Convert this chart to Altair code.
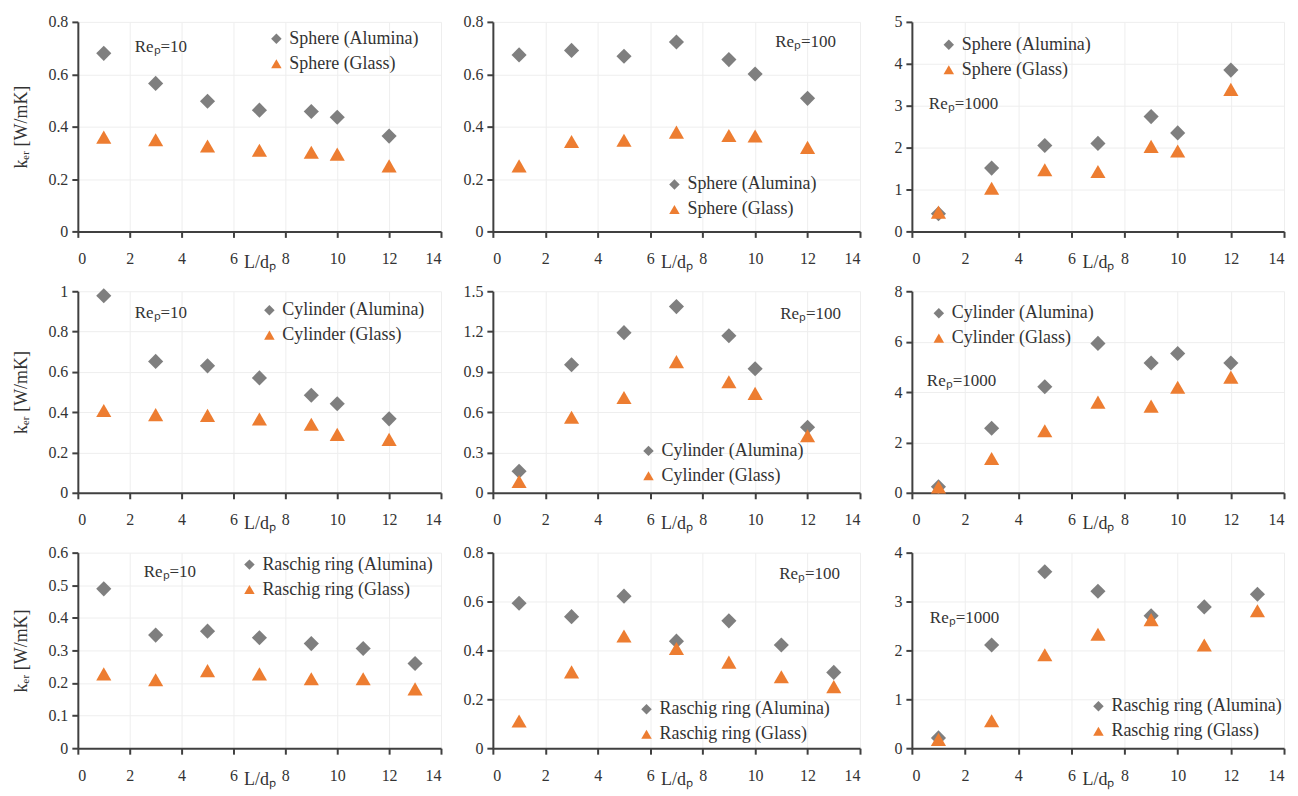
import altair as alt
import pandas as pd

# ---------------- data ----------------
x_sc = [1, 3, 5, 7, 9, 10, 12]          # sphere / cylinder L/dp
x_rr = [1, 3, 5, 7, 9, 11, 13]          # raschig ring L/dp

sph10_al = [0.68, 0.565, 0.497, 0.463, 0.458, 0.436, 0.364]
sph10_gl = [0.36, 0.35, 0.326, 0.31, 0.302, 0.295, 0.25]
sph100_al = [0.674, 0.691, 0.669, 0.723, 0.656, 0.601, 0.508]
sph100_gl = [0.25, 0.343, 0.348, 0.379, 0.366, 0.364, 0.321]
sph1000_al = [0.42, 1.51, 2.05, 2.10, 2.74, 2.35, 3.85]
sph1000_gl = [0.46, 1.03, 1.47, 1.43, 2.03, 1.92, 3.39]

cyl10_al = [0.978, 0.652, 0.630, 0.570, 0.484, 0.442, 0.367]
cyl10_gl = [0.408, 0.388, 0.384, 0.366, 0.340, 0.29, 0.265]
cyl100_al = [0.16, 0.953, 1.192, 1.386, 1.169, 0.923, 0.488]
cyl100_gl = [0.084, 0.562, 0.709, 0.976, 0.826, 0.74, 0.425]
cyl1000_al = [0.24, 2.56, 4.21, 5.93, 5.15, 5.53, 5.15]
cyl1000_gl = [0.23, 1.36, 2.46, 3.60, 3.44, 4.19, 4.59]

rr10_al = [0.489, 0.347, 0.359, 0.339, 0.321, 0.306, 0.260]
rr10_gl = [0.228, 0.21, 0.238, 0.228, 0.213, 0.213, 0.182]
rr100_al = [0.593, 0.538, 0.622, 0.438, 0.521, 0.422, 0.31]
rr100_gl = [0.111, 0.312, 0.459, 0.408, 0.352, 0.292, 0.252]
rr1000_al = [0.21, 2.11, 3.61, 3.21, 2.71, 2.89, 3.15]
rr1000_gl = [0.18, 0.56, 1.91, 2.33, 2.63, 2.11, 2.81]

x_ticks = [0, 2, 4, 6, 8, 10, 12, 14]

# ---------------- style ----------------
FONT = "Liberation Serif"
GRAY = "#7f7f7f"
ORANGE = "#ed7d31"
AXIS_C = "#404040"
TXT_C = "#333333"

W = [364, 368, 373]
H = [210, 202, 196]


def panel(xs, al, gl, name, ymax, ystep, re_label, re_xy, sym_xy, w, h, ytitle):
    lab_al = f"{name} (Alumina)"
    lab_gl = f"{name} (Glass)"
    df = pd.DataFrame({
        "x": xs + xs,
        "y": al + gl,
        "series": [lab_al] * len(xs) + [lab_gl] * len(xs),
    })
    n = int(round(ymax / ystep))
    yvals = [round(i * ystep, 4) for i in range(n + 1)]
    legend = alt.Legend(
        orient="none", legendX=sym_xy[0] - 5, legendY=sym_xy[1] - 9,
        title=None, padding=0, rowPadding=7, labelOffset=4, labelLimit=400,
        labelFont=FONT, labelFontSize=18, labelColor=TXT_C,
        symbolSize=110, symbolStrokeWidth=0, symbolOpacity=1,
    )
    yaxis_kw = dict(values=yvals, format="~g", labelFont=FONT, titleFont=FONT)
    if ytitle:
        yaxis_kw.update(title="kₑᵣ [W/mK]", titleX=-56, titleBaseline="middle",
                        titleAngle=270, titleAlign="center")
    else:
        yaxis_kw.update(title=None)
    pts = alt.Chart(df).mark_point(filled=True, opacity=1, size=230, strokeWidth=0).encode(
        x=alt.X("x:Q", scale=alt.Scale(domain=[0, 14], nice=False),
                axis=alt.Axis(values=x_ticks, title="L/dₚ", titleBaseline="top",
                              titleY=22, labelPadding=13, labelFont=FONT, titleFont=FONT)),
        y=alt.Y("y:Q", scale=alt.Scale(domain=[0, ymax], nice=False),
                axis=alt.Axis(labelPadding=4, **yaxis_kw)),
        color=alt.Color("series:N",
                        scale=alt.Scale(domain=[lab_al, lab_gl], range=[GRAY, ORANGE]),
                        legend=legend),
        shape=alt.Shape("series:N",
                        scale=alt.Scale(domain=[lab_al, lab_gl], range=["diamond", "triangle-up"]),
                        legend=legend),
    )
    txt = alt.Chart(pd.DataFrame({"t": [re_label]})).mark_text(
        align="left", baseline="middle", font=FONT, fontSize=17, color=TXT_C
    ).encode(text="t:N", x=alt.value(re_xy[0]), y=alt.value(re_xy[1]))
    return alt.layer(pts, txt).properties(width=w, height=h)


p11 = panel(x_sc, sph10_al, sph10_gl, "Sphere", 0.8, 0.2, "Reₚ=10", (57, 25), (195, 17), W[0], H[0], True)
p12 = panel(x_sc, sph100_al, sph100_gl, "Sphere", 0.8, 0.2, "Reₚ=100", (283, 20), (178, 163), W[1], H[0], False)
p13 = panel(x_sc, sph1000_al, sph1000_gl, "Sphere", 5, 1, "Reₚ=1000", (17, 82), (33, 23), W[2], H[0], False)

p21 = panel(x_sc, cyl10_al, cyl10_gl, "Cylinder", 1.0, 0.2, "Reₚ=10", (57, 22), (188, 19), W[0], H[1], True)
p22 = panel(x_sc, cyl100_al, cyl100_gl, "Cylinder", 1.5, 0.3, "Reₚ=100", (288, 23), (152, 160), W[1], H[1], False)
p23 = panel(x_sc, cyl1000_al, cyl1000_gl, "Cylinder", 8, 2, "Reₚ=1000", (15, 90), (23, 22), W[2], H[1], False)

p31 = panel(x_rr, rr10_al, rr10_gl, "Raschig ring", 0.6, 0.1, "Reₚ=10", (66, 19), (168, 12), W[0], H[2], True)
p32 = panel(x_rr, rr100_al, rr100_gl, "Raschig ring", 0.8, 0.2, "Reₚ=100", (287, 21), (150, 157), W[1], H[2], False)
p33 = panel(x_rr, rr1000_al, rr1000_gl, "Raschig ring", 4, 1, "Reₚ=1000", (18, 66), (183, 154), W[2], H[2], False)

chart = alt.concat(
    p11, p12, p13, p21, p22, p23, p31, p32, p33,
    columns=3, bounds="flush", spacing={"row": 60, "column": 52},
).resolve_scale(color="independent", shape="independent")

chart = chart.configure(font=FONT).configure_view(stroke=None).configure_axis(
    labelFont=FONT, labelFontSize=16, labelColor=TXT_C,
    titleFont=FONT, titleFontSize=18, titleFontWeight="normal", titleColor=TXT_C,
    domainColor=AXIS_C, domainWidth=2, tickColor=AXIS_C, tickWidth=2, tickSize=6,
    gridColor="#eeeeee", gridWidth=1, grid=True,
).configure_legend(labelFont=FONT).properties(background="white")

chart.save("out.html", embed_options={"renderer": "svg", "actions": False})
